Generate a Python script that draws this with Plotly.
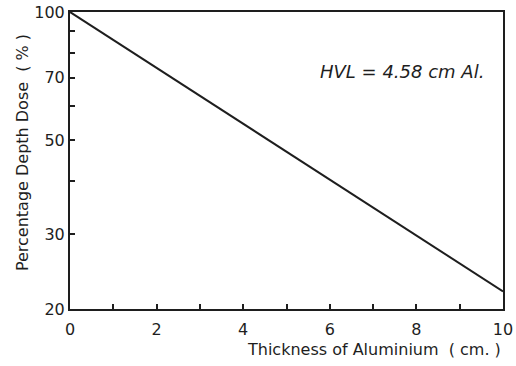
import plotly.graph_objects as go

thickness_cm = [0, 2, 4, 6, 8, 10]
depth_dose_pct = [100, 73.9, 54.6, 40.3, 29.8, 22.0]
x_ticks = [0, 2, 4, 6, 8, 10]
y_ticks = [20, 30, 50, 70, 100]
y_minor = [40, 60, 80, 90]
hvl_label = "HVL = 4.58 cm Al."
x_title = "Thickness of Aluminium  ( cm. )"
y_title = "Percentage Depth Dose  ( % )"

ink = "#1e1e1e"
fig = go.Figure()
fig.add_trace(go.Scatter(x=thickness_cm, y=depth_dose_pct, mode="lines",
                         line=dict(color=ink, width=2), showlegend=False, hoverinfo="skip"))

fig.update_layout(
    width=516, height=366,
    margin=dict(l=70, r=13, t=12, b=57),
    paper_bgcolor="white", plot_bgcolor="white",
    font=dict(family="DejaVu Sans, Liberation Sans, sans-serif", color=ink),
)
fig.update_xaxes(
    range=[0, 10], tickvals=x_ticks,
    ticks="inside", ticklen=5, tickcolor=ink, tickwidth=1.5,
    minor=dict(dtick=1, ticks="inside", ticklen=5, tickcolor=ink),
    showline=True, linecolor=ink, linewidth=2, mirror=True, showgrid=False,
    tickfont=dict(size=16), zeroline=False, automargin=False, ticklabeloverflow="allow",
    ticklabelstandoff=5,
)
fig.update_yaxes(
    type="log", range=[1.301, 2.0], tickvals=y_ticks,
    ticks="inside", ticklen=5, tickcolor=ink, tickwidth=1.5,
    minor=dict(tickvals=y_minor, ticks="inside", ticklen=5, tickcolor=ink),
    showline=True, linecolor=ink, linewidth=2, mirror=True, showgrid=False,
    tickfont=dict(size=16), zeroline=False, automargin=False, ticklabeloverflow="allow",
)
fig.add_annotation(x=-0.111, y=0.528, xref="paper", yref="paper", text=y_title, textangle=-90,
                   showarrow=False, xanchor="center", yanchor="middle", font=dict(size=16, color=ink))
fig.add_annotation(x=1, y=-0.137, xref="paper", yref="paper", text=x_title,
                   showarrow=False, xanchor="right", yanchor="middle", font=dict(size=16, color=ink))
fig.add_annotation(x=0.573, y=0.80, xref="paper", yref="paper", text="<i>" + hvl_label + "</i>",
                   showarrow=False, xanchor="left", yanchor="middle", font=dict(size=18, color=ink))
fig.write_html("out.html", config={"displayModeBar": False},
               post_script="document.body.style.margin='0';document.body.style.overflow='hidden';")
